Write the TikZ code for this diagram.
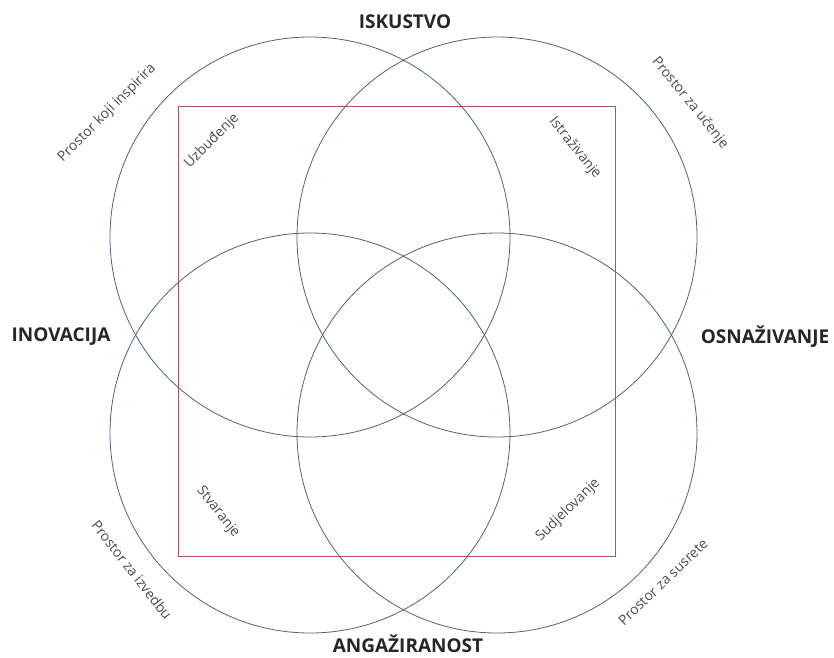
\documentclass[tikz,border=0pt]{standalone}
\usepackage{fontspec}
\setmainfont{Open Sans}
\usetikzlibrary{positioning}
\definecolor{ringblue}{HTML}{4E6278}
\definecolor{framered}{HTML}{A8565A}

\begin{document}
\begin{tikzpicture}[
    x=1pt, y=-1pt,
    ring/.style={draw=ringblue, circle, minimum size=400pt, line width=0.8pt, inner sep=0pt},
    frame/.style={draw=framered, line width=0.7pt, minimum width=437pt, minimum height=450pt, inner sep=0pt},
    title/.style={font=\bfseries\fontsize{19}{21}\selectfont, text=black!85, inner sep=1pt},
    zone/.style={font=\fontsize{14}{16}\selectfont, text=black!70, inner sep=0pt}
]
    \useasboundingbox (0,0) rectangle (834,657);

    % red frame and the four rings
    \node[frame] (box) at (396.5,331) {};
    \node[ring] (exp) at (310,237) {};
    \node[ring] (learn) at (497,237) {};
    \node[ring] (make) at (310,433) {};
    \node[ring] (meet) at (497,433) {};

    % titles
    \node[title] (iskustvo) at (405,22) {ISKUSTVO};
    \node[title] (inovacija) at (61,337) {INOVACIJA};
    \node[title] (osnazivanje) at (765,337) {OSNAŽIVANJE};
    \node[title] (angaziranost) at (408,644) {ANGAŽIRANOST};

    % outer spaces
    \node[zone, rotate=45] (inspire) at (107,113) {Prostor koji inspirira};
    \node[zone, rotate=-51] (ucenje) at (690,103) {Prostor za učenje};
    \node[zone, rotate=-52] (izvedba) at (132,570) {Prostor za izvedbu};
    \node[zone, rotate=44] (susreti) at (663,582) {Prostor za susrete};

    % inner corners
    \node[zone, rotate=45] (uzbudenje) at (212,141) {Uzbuđenje};
    \node[zone, rotate=-51] (istrazivanje) at (575,148) {Istraživanje};
    \node[zone, rotate=-52] (stvaranje) at (218,512) {Stvaranje};
    \node[zone, rotate=44] (sudjelovanje) at (568,510) {Sudjelovanje};
\end{tikzpicture}
\end{document}
